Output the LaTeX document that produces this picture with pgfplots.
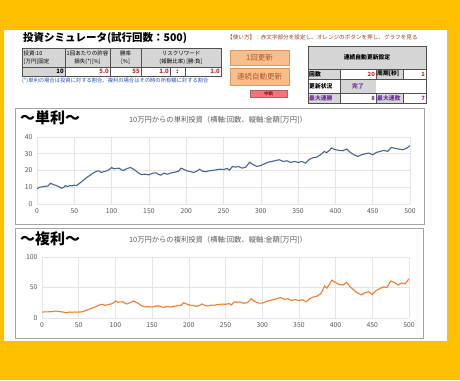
\documentclass[border=0pt]{standalone}
\usepackage{pgfplots}
\pgfplotsset{compat=1.18}
\usepackage{fontspec}
\setmainfont{Noto Sans CJK JP}
\definecolor{ybg}{RGB}{255,192,0}
\definecolor{hdr}{RGB}{214,214,214}
\definecolor{bord}{RGB}{80,80,80}
\definecolor{red1}{RGB}{192,40,40}
\definecolor{instr}{RGB}{150,60,40}
\definecolor{note}{RGB}{40,80,160}
\definecolor{btn}{RGB}{250,190,140}
\definecolor{btnb}{RGB}{225,150,90}
\definecolor{btnt}{RGB}{170,90,40}
\definecolor{stop}{RGB}{240,115,125}
\definecolor{purp}{RGB}{112,48,160}
\definecolor{frm}{RGB}{165,165,165}
\definecolor{ttl}{RGB}{89,89,89}
\definecolor{lblue}{RGB}{75,100,145}
\definecolor{lorange}{RGB}{237,125,49}
\newcommand{\fs}[1]{\fontsize{#1}{#1}\selectfont}
\begin{document}
\begin{tikzpicture}[x=1pt,y=1pt]
\useasboundingbox (0,0) rectangle (460,380);
\fill[ybg] (0,0) rectangle (460,380);
\fill[white] (4,39) rectangle (447,350);
% title
\node[anchor=west,inner sep=0,font=\fs{10.5}\bfseries] at (23,342) {投資シミュレータ(試行回数：500)};
\node[anchor=west,inner sep=0,font=\fs{5.6},text=instr] at (227,343) {【使い方】：赤文字部分を設定し、オレンジのボタンを押し、グラフを見る};
% left table
\fill[hdr] (22,313) rectangle (221,332);
\fill[hdr] (22,304) rectangle (65,313);
\draw[bord,line width=0.6pt] (22,304) rectangle (221,332);
\draw[bord,line width=0.6pt] (22,313)--(221,313);
\foreach \x in {65,110,141} \draw[bord,line width=0.6pt] (\x,304)--(\x,332);
\draw[bord,line width=0.4pt] (170,304)--(170,313) (185,304)--(185,313);
\begin{scope}[every node/.style={inner sep=0,font=\fs{5.5}}]
\node[anchor=west] at (23.5,327) {投資:10};
\node[anchor=west] at (23.5,318) {[万円]固定};
\node at (87.5,327) {1回あたりの許容};
\node at (87.5,318) {損失(*)[\%]};
\node at (125.5,327) {勝率};
\node at (125.5,318) {[\%]};
\node at (181,327) {リスクリワード};
\node at (181,318) {(報酬比率)\ [勝:負]};
\node[anchor=east,font=\fs{6}\bfseries] at (64,308.5) {10};
\node[anchor=east,font=\fs{6}\bfseries,text=red1] at (109,308.5) {5.0};
\node[anchor=east,font=\fs{6}\bfseries,text=red1] at (140,308.5) {55};
\node[anchor=east,font=\fs{6}\bfseries,text=red1] at (169,308.5) {1.0};
\node[font=\fs{6}\bfseries] at (177.5,308.5) {:};
\node[anchor=east,font=\fs{6}\bfseries,text=red1] at (220,308.5) {1.0};
\node[anchor=west,font=\fs{5.3},text=note] at (22,299) {(*)単利の場合は投資に対する割合、複利の場合はその時の所有額に対する割合};
\end{scope}
% buttons
\filldraw[fill=btn,draw=btnb,line width=0.5pt] (230,315) rectangle (289,330);
\node[font=\fs{7.5},text=btnt] at (259.5,322.5) {1回更新};
\filldraw[fill=btn,draw=btnb,line width=0.5pt] (230,295) rectangle (289,312);
\node[font=\fs{7.5},text=btnt] at (259.5,303.5) {連続自動更新};
\filldraw[fill=stop,draw=stop!80!black,line width=0.3pt] (250,283) rectangle (287,290);
\node[font=\fs{4.5}\bfseries,text=red1!70!black] at (268.5,286.5) {中断};
% right table
\fill[hdr] (308,311) rectangle (426,334);
\fill[hdr] (308,301) rectangle (340,311);
\fill[hdr] (376,301) rectangle (403,311);
\fill[hdr] (340,287) rectangle (376,301);
\fill[hdr] (308,277) rectangle (340,287);
\fill[hdr] (376,277) rectangle (403,287);
\draw[bord,line width=0.6pt] (308,277) rectangle (426,334);
\draw[bord,line width=0.6pt] (308,311)--(426,311);
\draw[bord,line width=0.4pt] (308,301)--(426,301) (308,287)--(426,287);
\draw[bord,line width=0.4pt] (340,277)--(340,311) (376,301)--(376,311) (403,301)--(403,311) (376,277)--(376,287) (403,277)--(403,287);
\begin{scope}[every node/.style={inner sep=0,font=\fs{5.8}\bfseries}]
\node at (367,322.5) {連続自動更新設定};
\node[anchor=west] at (309,306) {回数};
\node[anchor=east,text=red1] at (375,306) {20};
\node[anchor=west] at (377,306) {周期[秒]};
\node[anchor=east,text=red1] at (425,306) {1};
\node[anchor=west] at (309,294) {更新状況};
\node[text=purp] at (358,294) {完了};
\node[anchor=west,text=purp] at (309,282) {最大連勝};
\node[anchor=east,text=purp] at (375,282) {8};
\node[anchor=west,text=purp] at (377,282) {最大連敗};
\node[anchor=east,text=purp] at (425,282) {7};
\end{scope}
% chart frames
\filldraw[fill=white,draw=frm,line width=0.7pt] (15,156) rectangle (424,272);
\filldraw[fill=white,draw=frm,line width=0.7pt] (15,42) rectangle (423,152);
\node[anchor=west,inner sep=0,font=\fs{15}\bfseries] at (20,262) {～単利～};
\node[inner sep=0,font=\fs{7.3},text=ttl] at (218,260) {10万円からの単利投資（横軸:回数、縦軸:金額[万円]）};
\node[anchor=west,inner sep=0,font=\fs{15}\bfseries] at (20,141) {～複利～};
\node[inner sep=0,font=\fs{7.3},text=ttl] at (218,140) {10万円からの複利投資（横軸:回数、縦軸:金額[万円]）};
\pgfplotsset{every axis/.append style={
  scale only axis, anchor=south west,
  xmin=0,xmax=500, xtick={0,50,...,500},
  axis line style={draw=none}, major tick length=0pt,
  grid=major, grid style={black!10,line width=0.6pt},
  tick label style={font=\fs{6.8},text=ttl},
  /pgf/number format/assume math mode=true,
  xticklabel style={yshift=-1pt}, yticklabel style={xshift=-1pt},
}}
\begin{axis}[at={(37pt,176pt)}, width=373pt, height=67pt, ymin=0, ymax=40, ytick={0,10,...,40}]
\addplot[lblue, line width=1.1pt] coordinates {
(0,9.0)(3,10.0)(6,10.2)(9,10.4)(12,10.6)(15,10.8)(18,12.4)(22,11.6)(26,11.0)(30,10.2)(33,9.4)(36,10.0)(38,11.0)(41,10.4)(44,11.0)(47,10.8)(50,11.2)(53,11.0)(56,12.0)(60,13.4)(65,15.2)(70,16.8)(75,18.4)(80,19.6)(83,19.8)(86,18.8)(90,19.4)(95,20.0)(98,21.0)(100,21.8)(103,21.0)(106,21.2)(110,21.4)(113,20.4)(116,20.0)(120,21.0)(125,21.8)(128,21.2)(131,20.4)(135,18.8)(140,17.6)(145,17.8)(150,17.4)(155,18.4)(160,18.6)(163,17.6)(166,17.2)(170,18.4)(175,17.8)(180,18.6)(185,19.0)(190,19.6)(193,21.4)(197,20.6)(201,19.8)(205,19.4)(210,18.8)(215,19.8)(218,20.8)(222,19.6)(226,19.2)(230,19.8)(235,20.0)(240,20.4)(245,20.8)(250,20.6)(255,21.2)(258,20.2)(262,22.4)(266,22.0)(270,22.4)(275,21.4)(280,22.0)(285,25.0)(290,23.4)(295,22.4)(300,23.0)(305,24.0)(310,25.0)(315,25.4)(320,26.0)(325,26.4)(330,25.4)(335,25.8)(340,24.8)(345,25.4)(350,24.8)(355,25.4)(360,24.4)(365,26.6)(370,27.6)(375,28.0)(380,29.4)(385,31.4)(388,30.6)(392,32.0)(395,33.4)(400,32.4)(405,32.0)(410,31.8)(415,32.8)(420,30.8)(425,29.4)(430,28.4)(435,29.4)(440,30.0)(445,30.4)(450,29.4)(455,30.8)(460,31.4)(465,32.0)(470,31.4)(475,33.8)(480,33.2)(485,32.8)(490,32.4)(495,33.2)(500,34.8)
};
\end{axis}
\begin{axis}[at={(42pt,62pt)}, width=367pt, height=61pt, ymin=0, ymax=100, ytick={0,50,100}]
\addplot[lorange, line width=1.1pt] coordinates {
(0,9.5)(3,10.0)(6,10.0)(9,10.2)(12,10.4)(15,10.6)(18,11.5)(22,10.8)(26,10.2)(30,9.4)(33,8.6)(36,9.2)(38,9.8)(41,9.4)(44,9.8)(47,9.6)(50,9.9)(53,9.8)(56,10.6)(60,12.5)(65,14.8)(70,17.0)(75,19.5)(80,22.0)(83,22.4)(86,20.6)(90,22.0)(95,23.2)(98,25.5)(100,28.0)(103,25.8)(106,26.4)(110,26.6)(113,24.2)(116,23.0)(120,25.2)(125,27.8)(128,26.0)(131,24.2)(135,20.5)(140,18.2)(145,18.6)(150,17.8)(155,19.6)(160,19.8)(163,18.0)(166,17.3)(170,19.0)(175,18.0)(180,19.2)(185,20.0)(190,21.2)(193,25.0)(197,23.0)(201,21.2)(205,20.4)(210,19.2)(215,21.0)(218,23.0)(222,20.5)(226,19.7)(230,20.8)(235,21.2)(240,22.0)(245,22.8)(250,22.4)(255,23.6)(258,21.4)(262,26.5)(266,25.6)(270,26.4)(275,24.0)(280,25.2)(285,31.5)(290,27.0)(295,24.5)(300,24.5)(305,26.5)(310,28.5)(315,30.0)(320,31.5)(325,33.5)(330,30.5)(335,31.5)(340,28.8)(345,30.2)(350,28.5)(355,30.0)(360,26.5)(365,32.0)(370,34.5)(375,36.0)(380,40.0)(385,52.5)(388,49.0)(392,56.0)(395,62.0)(400,58.0)(405,55.0)(410,54.0)(415,58.5)(420,51.0)(425,45.5)(430,41.0)(435,38.0)(440,41.5)(445,43.0)(450,38.5)(455,45.0)(460,48.0)(465,51.0)(470,50.0)(475,60.5)(480,58.5)(485,54.0)(490,57.5)(495,56.0)(500,64.5)
};
\end{axis}
\end{tikzpicture}
\end{document}
